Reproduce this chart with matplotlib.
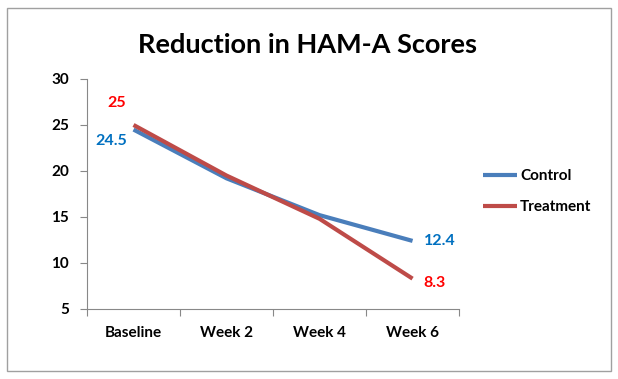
import matplotlib.pyplot as plt
from matplotlib.patches import Rectangle

weeks = ['Baseline', 'Week 2', 'Week 4', 'Week 6']
control = [24.5, 19.2, 15.2, 12.4]
treatment = [25, 19.5, 14.8, 8.3]

plt.rcParams['font.family'] = ['Lato', 'DejaVu Sans']

fig = plt.figure(figsize=(6.18, 3.79), dpi=100)
fig.patches.append(Rectangle((0.012, 0.021), 0.976, 0.958, transform=fig.transFigure,
                             fill=False, edgecolor='#a0a0a0', linewidth=1))
ax = fig.add_axes([0.1408, 0.1847, 0.602, 0.607])

x = range(len(weeks))
ax.plot(x, control, color='#4A7EBB', linewidth=3, label='Control', solid_capstyle='butt')
ax.plot(x, treatment, color='#BE4B48', linewidth=3, label='Treatment', solid_capstyle='butt')

ax.set_xlim(-0.5, 3.5)
ax.set_ylim(5, 30)
ax.set_yticks(range(5, 31, 5))
ax.set_xticks([-0.5, 0.5, 1.5, 2.5, 3.5])
ax.set_xticklabels([])
ax.set_xticks(list(x), minor=True)
ax.set_xticklabels(weeks, minor=True, fontsize=11, fontweight='bold')
ax.tick_params(axis='x', which='minor', length=0, pad=12)
ax.tick_params(axis='x', which='major', length=5, color='#888888')
ax.tick_params(axis='y', length=5, color='#888888', labelsize=11, pad=8)
for lab in ax.get_yticklabels():
    lab.set_fontweight('bold')

for s in ['top', 'right']:
    ax.spines[s].set_visible(False)
for s in ['left', 'bottom']:
    ax.spines[s].set_color('#888888')

ax.annotate(f'{treatment[0]:g}', (0, treatment[0]), xytext=(-12, 16), textcoords='offset points',
            ha='center', va='center', color='#FF0000', fontsize=11.5, fontweight='bold')
ax.annotate(f'{control[0]:g}', (0, control[0]), xytext=(-16, -8), textcoords='offset points',
            ha='center', va='center', color='#0070C0', fontsize=11.5, fontweight='bold')
ax.annotate(f'{control[-1]:g}', (3, control[-1]), xytext=(8, 0), textcoords='offset points',
            ha='left', va='center', color='#0070C0', fontsize=11.5, fontweight='bold')
ax.annotate(f'{treatment[-1]:g}', (3, treatment[-1]), xytext=(8, -3), textcoords='offset points',
            ha='left', va='center', color='#FF0000', fontsize=11.5, fontweight='bold')

fig.text(0.497, 0.88, 'Reduction in HAM-A Scores', ha='center', va='center',
         fontsize=19.5, fontweight='bold')

fig.legend(loc='upper left', bbox_to_anchor=(0.76, 0.59), frameon=False,
           prop={'size': 11, 'weight': 'bold'}, handlelength=2.2, handletextpad=0.2,
           labelspacing=1.1)

fig.savefig('out.png', dpi=100)
